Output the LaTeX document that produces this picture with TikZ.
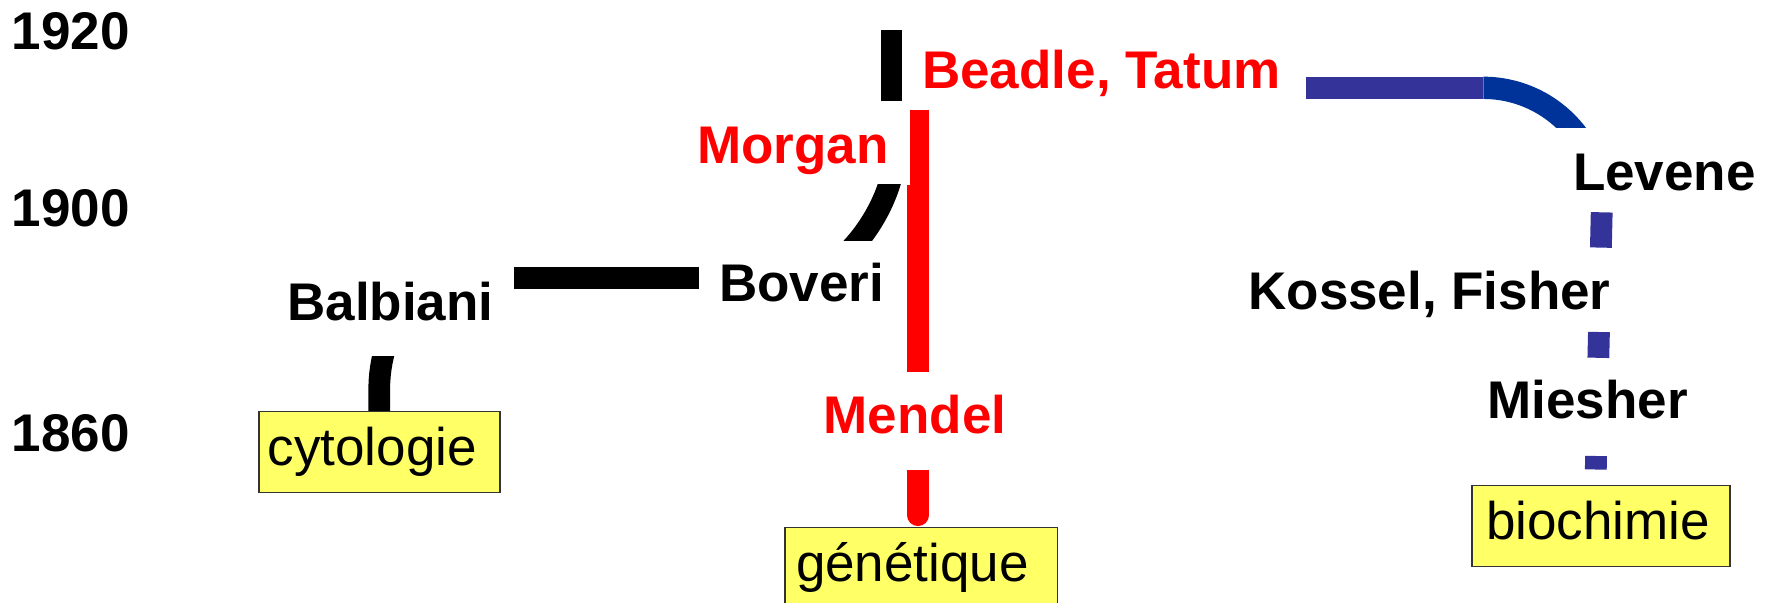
\documentclass[tikz,border=0pt]{standalone}
\usepackage{fontspec}
\setmainfont{Liberation Sans}
\definecolor{boxfill}{RGB}{255,255,102}
\definecolor{boxline}{RGB}{51,51,51}
\definecolor{bioblue}{RGB}{51,51,153}
\definecolor{arcblue}{RGB}{0,51,153}
\definecolor{genred}{RGB}{255,0,0}
\begin{document}
\begin{tikzpicture}[x=0.5pt,y=-0.5pt,
  lbl/.style={font=\fontsize{26.5}{30}\selectfont\bfseries, inner sep=0pt, anchor=base},
  redlbl/.style={lbl, text=genred},
  field/.style={draw=boxline, line width=0.75pt, fill=boxfill,
    font=\fontsize{26.5}{30}\selectfont, anchor=north west,
    minimum height=40.5pt, text height=19.9pt, text depth=6.6pt,
    inner ysep=0pt},
  bar/.style={line width=11pt},
]
\useasboundingbox (0,0) rectangle (1769,602);

% years
\node[lbl] (y1920) at (70.8,49.7) {1920};
\node[lbl] (y1900) at (70.8,226.5) {1900};
\node[lbl] (y1860) at (70.8,451) {1860};

% names
\node[lbl] (balbiani) at (390.4,320.5) {Balbiani};
\node[lbl] (boveri) at (801.7,301.3) {Boveri};
\node[redlbl] (morgan) at (792.8,163.1) {Morgan};
\node[redlbl] (beadle) at (1101.4,88.3) {Beadle, Tatum};
\node[redlbl] (mendel) at (915,433.8) {Mendel};
\node[lbl] (levene) at (1664.4,190) {Levene};
\node[lbl] (kossel) at (1429.5,309) {Kossel, Fisher};
\node[lbl] (miesher) at (1587.7,418.4) {Miesher};

% line ends
\coordinate (bb1) at (514,277.8);
\coordinate (bb2) at (699,277.8);
\coordinate (tb1) at (891.5,30);
\coordinate (tb2) at (891.5,100.7);
\coordinate (ru1) at (919.3,110);
\coordinate (ru2) at (919.3,184.7);
\coordinate (rl1) at (918,184.7);
\coordinate (rl2) at (918,371.6);
\coordinate (rs1) at (918,460);
\coordinate (rs2) at (918,515.2);
\coordinate (hb1) at (1306,87.8);
\coordinate (hb2) at (1483.3,87.8);

% cytology branch
\draw[bar] (bb1) -- (bb2);
\begin{scope}
  \clip (360,356) rectangle (400,412);
  \draw[line width=10.85pt] (379.2,412) -- (379.2,392)
    .. controls (379.2,375) and (381,362) .. (386,345);
\end{scope}
\begin{scope}
  \clip (830,184.7) rectangle (905,240);
  \draw[line width=11pt] (894,165) .. controls (888,200) and (868,232) .. (848,252);
\end{scope}
\draw[line width=10.5pt] (tb1) -- (tb2);

% genetics branch
\draw[genred, line width=9.35pt] (ru1) -- (ru2);
\draw[genred, line width=10.7pt] (rl1) -- (rl2);
\begin{scope}
  \clip (890,470) rectangle (950,530);
  \draw[genred, line width=10.85pt, line cap=round] (rs1) -- (rs2);
\end{scope}

% biochemistry branch
\begin{scope}
  \clip (1483.3,60) rectangle (1600,127.7);
  \draw[arcblue, line width=11.15pt] (hb2) .. controls (1525.2,87.8) and (1564,110.2) .. (1585,146.5);
\end{scope}
\draw[bioblue, line width=11.15pt] (hb1) -- (hb2);
\draw[bioblue, line width=10.9pt] (1601.7,212.3) -- (1600.9,247.6);
\draw[bioblue, line width=10.9pt] (1598.95,332) -- (1598.36,357.8);
\draw[bioblue, line width=10.9pt] (1596.1,456) -- (1595.8,469.5);

% fields
\node[field, inner xsep=4.35pt] (cytobox) at (258.3,410.7) {\makebox[111.85pt][l]{cytologie}};
\node[field, inner xsep=5.65pt] (genebox) at (784,526.7) {\makebox[125.05pt][l]{génétique}};
\node[field, inner xsep=7.05pt] (biobox) at (1471.4,484.8) {\makebox[114.7pt][l]{biochimie}};
\end{tikzpicture}
\end{document}
